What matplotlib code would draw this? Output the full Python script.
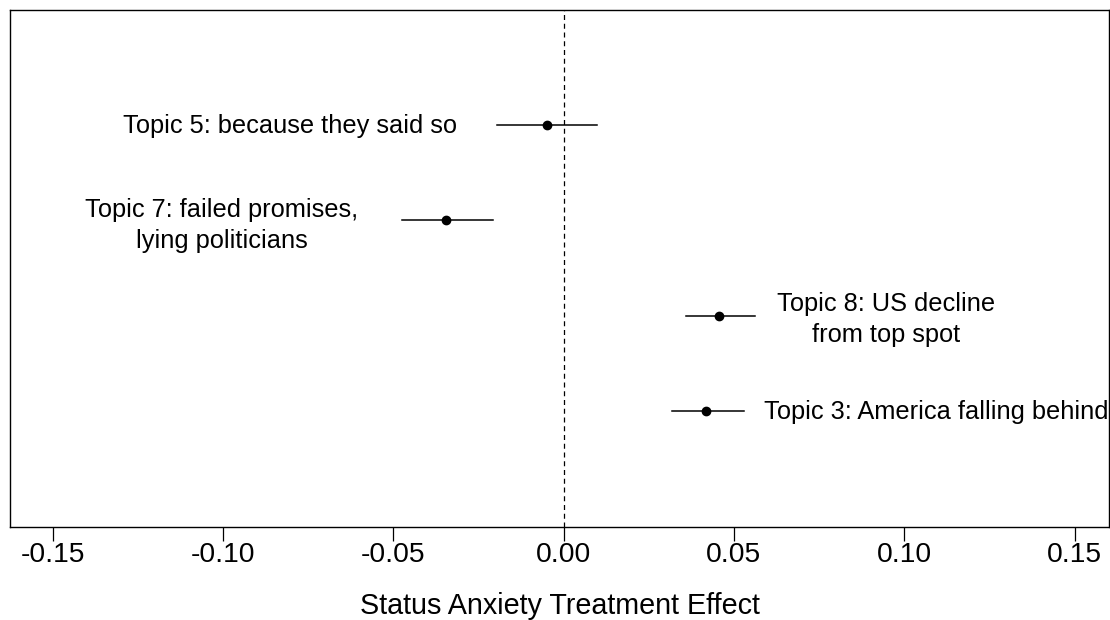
import matplotlib
matplotlib.use("Agg")
import matplotlib.pyplot as plt

labels = ["Topic 5: because they said so",
          "Topic 7: failed promises,\nlying politicians",
          "Topic 8: US decline\nfrom top spot",
          "Topic 3: America falling behind"]
estimates = [-0.005, -0.0346, 0.0457, 0.0419]
ci_low = [-0.0196, -0.0475, 0.0358, 0.0317]
ci_high = [0.0097, -0.0208, 0.0563, 0.0531]
ypos = [4, 3, 2, 1]
label_x = [-0.0804, -0.1003, 0.0947, 0.1094]
label_y = [3.98, 2.94, 1.96, 0.99]
xticks = [-0.15, -0.10, -0.05, 0.00, 0.05, 0.10, 0.15]

plt.rcParams['font.family'] = ['Liberation Sans', 'DejaVu Sans']
fig = plt.figure(figsize=(11.1, 6.2), dpi=100)
ax = fig.add_axes([10/1110, 93/620, 1099/1110, 517/620])

ax.axvline(0, color='black', linestyle=(0, (4, 3)), linewidth=0.9)
for lo, hi, est, y in zip(ci_low, ci_high, estimates, ypos):
    ax.plot([lo, hi], [y, y], color='black', linewidth=1.1)
ax.plot(estimates, ypos, 'o', color='black', markersize=6)
for lx, ly, lab in zip(label_x, label_y, labels):
    ax.text(lx, ly, lab, ha='center', va='center', fontsize=18.3, linespacing=1.38)

ax.set_xlim(-0.1625, 0.1601)
ax.set_ylim(-0.215, 5.2)
ax.set_yticks([])
ax.set_xticks(xticks)
ax.set_xticklabels([f"{t:.2f}" for t in xticks], fontsize=20.3)
ax.tick_params(axis='x', direction='out', length=10, width=0.9, pad=1)
ax.set_xlabel("Status Anxiety Treatment Effect", fontsize=20.7, labelpad=17)
for s in ax.spines.values():
    s.set_linewidth(1.0)

fig.savefig("out.png", dpi=100)
